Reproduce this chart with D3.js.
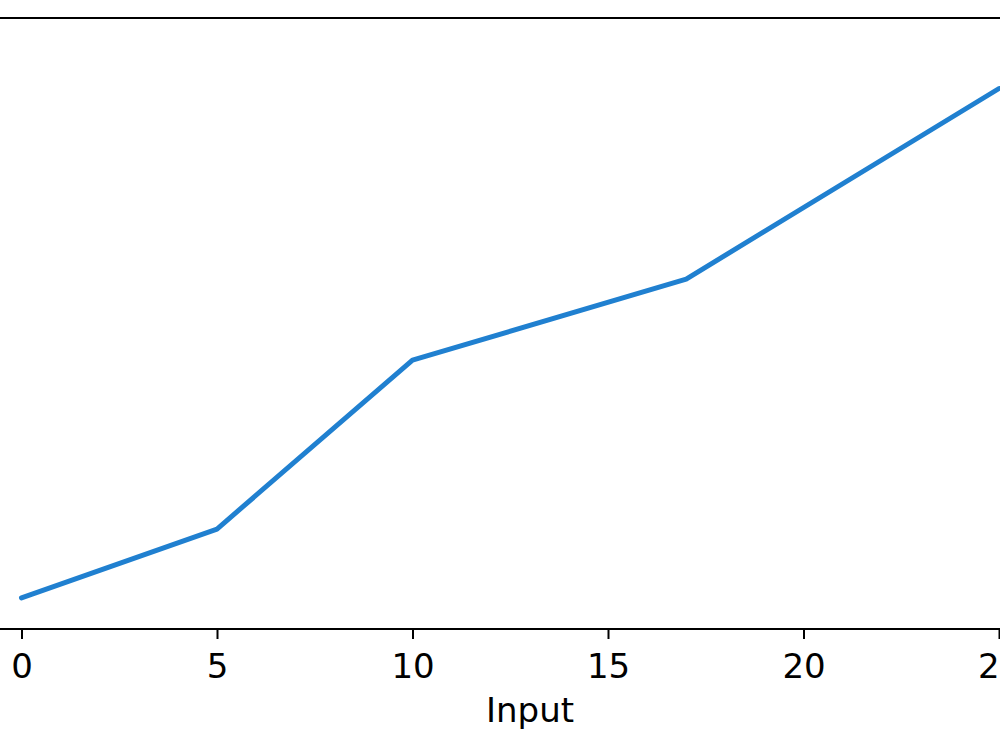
<!DOCTYPE html>
<html>
<head>
<meta charset="utf-8">
<script src="https://cdn.jsdelivr.net/npm/d3@7"></script>
<style>
  html, body { margin: 0; padding: 0; background: #fff; }
  svg { display: block; }
</style>
</head>
<body>
<svg id="chart" width="1000" height="750"></svg>
<script>
// Data
const inputs  = [0, 5, 10, 17, 25];
const outputs = [0.6, 13.0, 43.4, 58.0, 92.3];
const xTicks  = [0, 5, 10, 15, 20, 25];
const xLabel  = "Input";

(function () {
const svg = d3.select("#chart");
const W = 1000;
const plotTop = 18, plotBottom = 629;

const x = d3.scaleLinear().domain([0, 25]).range([21.5, 999]);
const y = d3.scaleLinear().domain([-5, 105]).range([plotBottom, plotTop]);

// top spine
svg.append("line")
  .attr("x1", -10).attr("x2", W + 10)
  .attr("y1", plotTop).attr("y2", plotTop)
  .attr("stroke", "#000").attr("stroke-width", 2);

// x axis
const axis = d3.axisBottom(x)
  .tickValues(xTicks)
  .tickFormat(d3.format("d"))
  .tickSize(10)
  .tickPadding(15);

const gx = svg.append("g")
  .attr("transform", `translate(0,${plotBottom})`)
  .call(axis);
gx.select(".domain").remove();
gx.selectAll(".tick line").attr("stroke", "#000").attr("stroke-width", 2);
gx.selectAll(".tick text")
  .attr("fill", "#000")
  .style("font-family", "DejaVu Sans, sans-serif")
  .style("font-size", "34px");

svg.append("line")
  .attr("x1", -10).attr("x2", W + 10)
  .attr("y1", plotBottom).attr("y2", plotBottom)
  .attr("stroke", "#000").attr("stroke-width", 2);

// x label
svg.append("text")
  .attr("x", 530).attr("y", 722)
  .attr("text-anchor", "middle")
  .style("font-family", "DejaVu Sans, sans-serif")
  .style("font-size", "34px")
  .attr("fill", "#000")
  .text(xLabel);

// line
const data = inputs.map((v, i) => ({x: v, y: outputs[i]}));
svg.append("path")
  .datum(data)
  .attr("fill", "none")
  .attr("stroke", "#2080d0")
  .attr("stroke-width", 5)
  .attr("stroke-linecap", "round")
  .attr("stroke-linejoin", "round")
  .attr("d", d3.line().x(d => x(d.x)).y(d => y(d.y)));
})();
</script>
</body>
</html>
